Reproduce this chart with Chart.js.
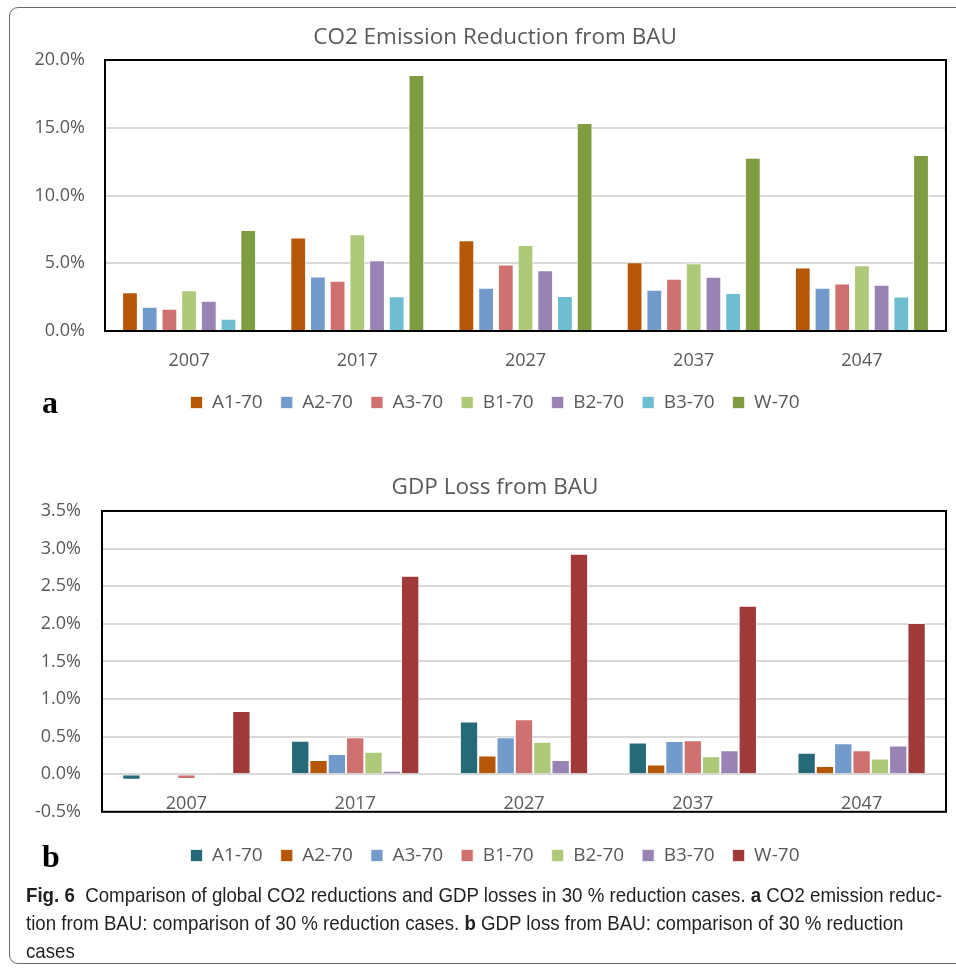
<!DOCTYPE html>
<html>
<head>
<meta charset="utf-8">
<script src="https://cdn.jsdelivr.net/npm/chart.js@4.4.1/dist/chart.umd.min.js"></script>
<style>
    html, body { margin: 0; padding: 0; background: #fff; }
    body { width: 956px; height: 968px; position: relative; overflow: hidden; font-family: "Open Sans", sans-serif; }
    .frame { position: absolute; left: 9px; top: 7px; width: 1000px; height: 955px; border: 1px solid #6b6b6b; border-radius: 9px; }
    .box { position: absolute; left: 0; width: 956px; }
    #boxA { top: 0; height: 430px; }
    #boxB { top: 450px; height: 434px; }
    .tag { position: absolute; left: 42px; font-family: "Liberation Serif", serif; font-weight: bold; font-size: 32px; color: #000; }
    .caption { position: absolute; left: 26px; top: 881px; font-family: "Liberation Sans", sans-serif; font-size: 21px; line-height: 28px; color: #231f20; z-index: 2; }
    .caption div { white-space: nowrap; transform: scaleX(0.89); transform-origin: left center; }
</style>
</head>
<body>
<div class="frame"></div>
<div class="box" id="boxA"><canvas id="co2Chart"></canvas></div>
<div class="box" id="boxB"><canvas id="gdpChart"></canvas></div>
<div class="tag" style="top:384px">a</div>
<div class="tag" style="top:838px">b</div>
<div class="caption">
    <div><b>Fig. 6</b>&nbsp; Comparison of global CO2 reductions and GDP losses in 30 % reduction cases. <b>a</b> CO2 emission reduc-</div>
    <div>tion from BAU: comparison of 30 % reduction cases. <b>b</b> GDP loss from BAU: comparison of 30 % reduction</div>
    <div>cases</div>
</div>
<script>
const years = ['2007', '2017', '2027', '2037', '2047'];
const cases = ['A1-70', 'A2-70', 'A3-70', 'B1-70', 'B2-70', 'B3-70', 'W-70'];

// CO2 emission reduction from BAU (%)
const co2A1 = [2.86, 6.90, 6.69, 5.07, 4.68];
const co2A2 = [1.79, 4.03, 3.20, 3.04, 3.19];
const co2A3 = [1.64, 3.70, 4.90, 3.86, 3.51];
const co2B1 = [3.00, 7.14, 6.34, 5.00, 4.85];
const co2B2 = [2.24, 5.22, 4.48, 4.00, 3.41];
const co2B3 = [0.90, 2.56, 2.59, 2.81, 2.54];
const co2W = [7.46, 18.90, 15.35, 12.79, 12.99];

// GDP loss from BAU (%)
const gdpA1 = [-0.075, 0.446, 0.70, 0.42, 0.286];
const gdpA2 = [0.02, 0.19, 0.25, 0.13, 0.11];
const gdpA3 = [0.005, 0.27, 0.49, 0.44, 0.41];
const gdpB1 = [-0.065, 0.49, 0.73, 0.45, 0.32];
const gdpB2 = [0.002, 0.30, 0.43, 0.24, 0.21];
const gdpB3 = [0.004, 0.045, 0.19, 0.32, 0.38];
const gdpW = [0.84, 2.64, 2.93, 2.24, 2.01];

const co2Colors = ['#b65708', '#729aca', '#cf7170', '#afc97a', '#9982b4', '#6fbdd0', '#7f9c40'];
const gdpColors = ['#266a7a', '#b65708', '#729aca', '#cf7170', '#afc97a', '#9982b4', '#a03a3a'];

const textGrey = '#595959';
const gridGrey = '#d9d9d9';

// black frame around plot area
const plotBox = {
    id: 'plotBox',
    afterDraw(chart) {
        const a = chart.chartArea;
        const ctx = chart.ctx;
        ctx.save();
        ctx.strokeStyle = '#000';
        ctx.lineWidth = 2;
        ctx.strokeRect(a.left, a.top, a.right - a.left, a.bottom - a.top);
        ctx.restore();
    }
};

// title and legend sit a bit right of the canvas centre in the original
const nudge = {
    id: 'nudge',
    afterLayout(chart) {
        const d = 22;
        chart.legend.left += d;
        chart.legend.right += d;
        chart.titleBlock.left += d;
        chart.titleBlock.right += d;
    }
};

function makeSets(values, colors) {
    return values.map((v, i) => ({
        label: cases[i],
        data: v,
        backgroundColor: colors[i],
        borderColor: 'rgba(255,255,255,0.7)',
        borderWidth: 1
    }));
}

const legendLabels = {
    color: textGrey,
    boxWidth: 12,
    boxHeight: 12,
    padding: 18,
    font: { family: 'Open Sans', size: 19 }
};

let co2Chart = new Chart('co2Chart', {
    type: 'bar',
    data: {
        labels: years,
        datasets: makeSets([co2A1, co2A2, co2A3, co2B1, co2B2, co2B3, co2W], co2Colors)
    },
    options: {
        responsive: true,
        maintainAspectRatio: false,
        animation: false,
        categoryPercentage: 0.82,
        barPercentage: 0.8,
        layout: { padding: { top: 24, right: 10, left: 0, bottom: 8 } },
        plugins: {
            title: {
                display: true,
                text: 'CO2 Emission Reduction from BAU',
                color: textGrey,
                font: { family: 'Open Sans', size: 22.5, weight: 'normal' },
                padding: { top: 0, bottom: 9 }
            },
            legend: {
                position: 'bottom',
                labels: legendLabels
            },
            tooltip: { enabled: false }
        },
        scales: {
            x: {
                grid: { display: false, drawTicks: false },
                border: { color: gridGrey, width: 2 },
                ticks: { color: textGrey, padding: 19, font: { family: 'Open Sans', size: 18 } },
                afterFit(s) { s.height = 44; }
            },
            y: {
                min: 0,
                max: 20,
                grid: { color: gridGrey, lineWidth: 2, drawTicks: false },
                border: { display: false },
                ticks: {
                    stepSize: 5,
                    color: textGrey,
                    padding: 20,
                    font: { family: 'Open Sans', size: 18 },
                    callback: (v) => v.toFixed(1) + '%'
                },
                afterFit(s) { s.width = 105; }
            }
        }
    },
    plugins: [plotBox, nudge]
});

let gdpChart = new Chart('gdpChart', {
    type: 'bar',
    data: {
        labels: years,
        datasets: makeSets([gdpA1, gdpA2, gdpA3, gdpB1, gdpB2, gdpB3, gdpW], gdpColors)
    },
    options: {
        responsive: true,
        maintainAspectRatio: false,
        animation: false,
        categoryPercentage: 0.76,
        barPercentage: 1.0,
        layout: { padding: { top: 24, right: 10, left: 0, bottom: 9 } },
        plugins: {
            title: {
                display: true,
                text: 'GDP Loss from BAU',
                color: textGrey,
                font: { family: 'Open Sans', size: 22.5, weight: 'normal' },
                padding: { top: 0, bottom: 10 }
            },
            legend: {
                position: 'bottom',
                title: { display: true, text: ' ', font: { size: 1 }, padding: { top: 15, bottom: 0 } },
                labels: legendLabels
            },
            tooltip: { enabled: false }
        },
        scales: {
            x: {
                position: { y: 0 },
                grid: { display: false, drawTicks: false },
                border: { display: false },
                ticks: { color: textGrey, padding: 19, font: { family: 'Open Sans', size: 18 } }
            },
            y: {
                min: -0.5,
                max: 3.5,
                grid: { color: gridGrey, lineWidth: 2, drawTicks: false },
                border: { display: false },
                ticks: {
                    stepSize: 0.5,
                    color: textGrey,
                    padding: 21,
                    font: { family: 'Open Sans', size: 18 },
                    callback: (v) => v.toFixed(1) + '%'
                },
                afterFit(s) { s.width = 102; }
            }
        }
    },
    plugins: [plotBox, nudge]
});
</script>
</body>
</html>
